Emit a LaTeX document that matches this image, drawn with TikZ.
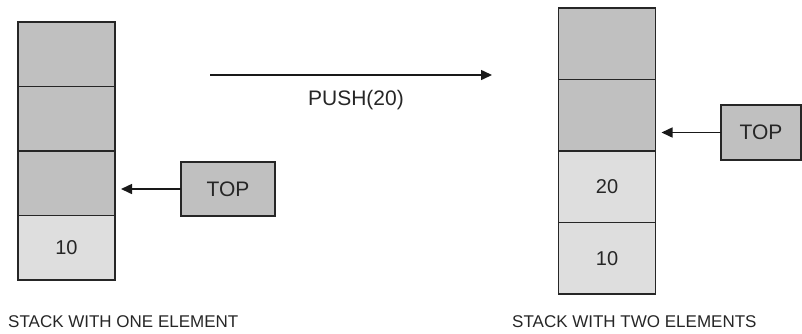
\documentclass[tikz,border=0pt]{standalone}
\usepackage{fontspec}
\setmainfont{Liberation Sans}
\usetikzlibrary{arrows.meta}
\definecolor{darkcell}{HTML}{C0C0C0}
\definecolor{lightcell}{HTML}{DEDEDE}
\begin{document}
\begin{tikzpicture}[x=1pt,y=-1pt,
  cell/.style={draw=black!85, line width=1.5pt, minimum width=97pt, outer sep=0pt, inner sep=0pt, font=\fontsize{20}{24}\selectfont, text=black!85},
  topbox/.style={draw=black!85, line width=1.5pt, fill=darkcell, minimum width=94pt, minimum height=54pt, outer sep=0pt, font=\fontsize{21}{24}\selectfont, text=black!85},
  arr/.style={line width=1.5pt, draw=black!90, -{Triangle[length=11pt,width=10pt]}},
  captext/.style={font=\fontsize{17}{20}\selectfont, anchor=west, inner sep=0pt, text=black!85}
]
\useasboundingbox (0,0) rectangle (802,333);
% left stack
\node[cell, fill=darkcell, minimum height=64.5pt] (l1) at (66.5,54.25) {};
\node[cell, fill=darkcell, minimum height=64.5pt] (l2) at (66.5,118.75) {};
\node[cell, fill=darkcell, minimum height=64.5pt] (l3) at (66.5,183.25) {};
\node[cell, fill=lightcell, minimum height=64.5pt] (l4) at (66.5,247.75) {10};
\node[topbox] (ltop) at (228,189) {TOP};
\coordinate (ltip) at ([xshift=6pt]l3.east |- ltop);
\draw[arr] (ltop.west) -- (ltip);
\node[captext] (lcap) at (8,322) {STACK WITH ONE ELEMENT};
% push arrow
\coordinate (ps) at (210,75);
\coordinate (pe) at (492,75);
\draw[arr] (ps) -- (pe);
\node[font=\fontsize{21}{24}\selectfont, text=black!85] (plabel) at (356,100) {PUSH(20)};
% right stack
\node[cell, fill=darkcell, minimum height=71.5pt] (r1) at (607,43.75) {};
\node[cell, fill=darkcell, minimum height=71.5pt] (r2) at (607,115.25) {};
\node[cell, fill=lightcell, minimum height=71.5pt] (r3) at (607,186.75) {20};
\node[cell, fill=lightcell, minimum height=71.5pt] (r4) at (607,258.25) {10};
\node[topbox, minimum width=80pt, minimum height=55pt] (rtop) at (761,132.5) {TOP};
\coordinate (rtip) at ([xshift=6pt]r2.east |- rtop);
\draw[arr] (rtop.west) -- (rtip);
\node[captext] (rcap) at (512,322) {STACK WITH TWO ELEMENTS};
\end{tikzpicture}
\end{document}
